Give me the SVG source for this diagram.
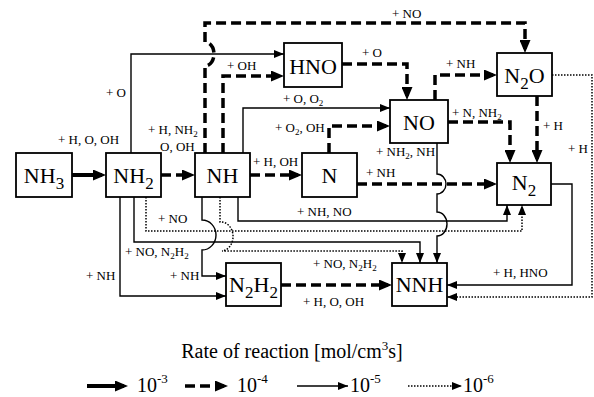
<svg xmlns="http://www.w3.org/2000/svg" width="594" height="397" viewBox="0 0 594 397">
<style>
.box{fill:#fff;stroke:#000;stroke-width:1.8}
.nl{font-family:"Liberation Serif","Times New Roman",serif;font-size:22px;fill:#000;text-anchor:middle}
.sb{font-size:17px}
.lb{font-family:"Liberation Serif","Times New Roman",serif;font-size:13px;fill:#000}
.ls{font-size:9px}
.c{fill:none;stroke:#000}
.thick{stroke-width:4;marker-end:url(#mk)}
.dash{stroke-width:3.5;stroke-dasharray:10 5;marker-end:url(#mk)}
.thin{stroke-width:1.4;marker-end:url(#mt)}
.dot{stroke-width:1.5;stroke-dasharray:1.5 1.5;marker-end:url(#mt)}
.lg{font-family:"Liberation Serif","Times New Roman",serif;font-size:20px;fill:#000}
</style>
<defs>
<marker id="mk" markerUnits="userSpaceOnUse" markerWidth="13" markerHeight="11" refX="9" refY="5.5" orient="auto"><path d="M0,0 L13,5.5 L0,11 z" fill="#000"/></marker>
<marker id="mt" markerUnits="userSpaceOnUse" markerWidth="10" markerHeight="8" refX="10" refY="4" orient="auto"><path d="M0,0 L10,4 L0,8 z" fill="#000"/></marker>
</defs>
<rect width="594" height="397" fill="#fff"/>
<g id="connectors">
<path class="c thick" d="M72,175 H102"/>
<path class="c dash" d="M161,175 H191"/>
<path class="c dash" d="M250,175 H298"/>
<path class="c dash" d="M357,184 H493"/>
<path class="c thin" d="M131,153 V54 H284"/>
<path class="c dash" d="M205,153 V66 A9,12 0 0 0 205,42 V23 H525 V49"/>
<path class="c dash" d="M223,153 V76 H280"/>
<path class="c thin" d="M243,153 V108 H390"/>
<path class="c dash" d="M329,153 V126 H386"/>
<path class="c dash" d="M342,64 H407 V96"/>
<path class="c dash" d="M435,100 V75 H493"/>
<path class="c dash" d="M448,122 H510 V159"/>
<path class="c dash" d="M537,96 V159"/>
<path class="c dot" d="M552,75 H592 V297 H447"/>
<path class="c thin" d="M551,184 H572 V285 H447"/>
<path class="c thin" d="M437,143 V174 A9,10 0 0 1 437,194 V212 A10,12 0 0 1 437,236 V263"/>
<path class="c thin" d="M238,197 V221 H507 V205"/>
<path class="c dot" d="M146,197 V231 H522 V205"/>
<path class="c thin" d="M134,197 V242 H420 V263"/>
<path class="c thin" d="M202,197 V220 A14,15 0 0 1 202,250 V276 H226"/>
<path class="c thin" d="M120,197 V296 H226"/>
<path class="c dot" d="M220,197 V222 A12,14.5 0 0 1 222,251 H402 V263"/>
<path class="c dash" d="M281,285 H388"/>
</g>
<g id="labels">
<text class="lb" x="392" y="18">+ NO</text>
<text class="lb" x="106" y="97">+ O</text>
<text class="lb" x="227" y="70">+ OH</text>
<text class="lb" x="362" y="57">+ O</text>
<text class="lb" x="446" y="68">+ NH</text>
<text class="lb" x="283" y="103">+ O, O<tspan class="ls" dy="3">2</tspan></text>
<text class="lb" x="148" y="134">+ H, NH<tspan class="ls" dy="3">2</tspan></text>
<text class="lb" x="160" y="151">O, OH</text>
<text class="lb" x="58" y="144">+ H, O, OH</text>
<text class="lb" x="275" y="132">+ O<tspan class="ls" dy="3">2</tspan><tspan dy="-3">, OH</tspan></text>
<text class="lb" x="253" y="166">+ H, OH</text>
<text class="lb" x="452" y="117">+ N, NH<tspan class="ls" dy="3">2</tspan></text>
<text class="lb" x="376" y="156">+ NH<tspan class="ls" dy="3">2</tspan><tspan dy="-3">, NH</tspan></text>
<text class="lb" x="366" y="177">+ NH</text>
<text class="lb" x="543" y="130">+ H</text>
<text class="lb" x="568" y="153">+ H</text>
<text class="lb" x="297" y="216">+ NH, NO</text>
<text class="lb" x="158" y="223">+ NO</text>
<text class="lb" x="125" y="256">+ NO, N<tspan class="ls" dy="3">2</tspan><tspan dy="-3">H</tspan><tspan class="ls" dy="3">2</tspan></text>
<text class="lb" x="86" y="280">+ NH</text>
<text class="lb" x="170" y="280">+ NH</text>
<text class="lb" x="313" y="268">+ NO, N<tspan class="ls" dy="3">2</tspan><tspan dy="-3">H</tspan><tspan class="ls" dy="3">2</tspan></text>
<text class="lb" x="303" y="306">+ H, O, OH</text>
<text class="lb" x="493" y="277">+ H, HNO</text>
</g>
<g id="NH3"><rect class="box" x="16" y="153" width="56" height="44"/><text class="nl" x="44" y="183">NH<tspan class="sb" dy="6">3</tspan></text></g>
<g id="NH2"><rect class="box" x="106" y="153" width="55" height="44"/><text class="nl" x="133.5" y="183">NH<tspan class="sb" dy="6">2</tspan></text></g>
<g id="NH"><rect class="box" x="195" y="153" width="55" height="44"/><text class="nl" x="222.5" y="183">NH</text></g>
<g id="N"><rect class="box" x="302" y="153" width="55" height="44"/><text class="nl" x="329.5" y="183">N</text></g>
<g id="HNO"><rect class="box" x="284" y="43" width="58" height="44"/><text class="nl" x="313" y="74">HNO</text></g>
<g id="NO"><rect class="box" x="390" y="100" width="58" height="43"/><text class="nl" x="419" y="130">NO</text></g>
<g id="N2O"><rect class="box" x="497" y="53" width="55" height="43"/><text class="nl" x="524.5" y="83">N<tspan class="sb" dy="6">2</tspan><tspan dy="-6">O</tspan></text></g>
<g id="N2"><rect class="box" x="497" y="163" width="54" height="42"/><text class="nl" x="524" y="190">N<tspan class="sb" dy="6">2</tspan></text></g>
<g id="N2H2"><rect class="box" x="226" y="263" width="55" height="43"/><text class="nl" x="253.5" y="292">N<tspan class="sb" dy="6">2</tspan><tspan dy="-6">H</tspan><tspan class="sb" dy="6">2</tspan></text></g>
<g id="NNH"><rect class="box" x="392" y="263" width="55" height="43"/><text class="nl" x="419.5" y="292">NNH</text></g>
<g id="legend">
<text class="lg" x="292" y="358" text-anchor="middle" font-size="21">Rate of reaction [mol/cm<tspan font-size="13" dy="-8">3</tspan><tspan dy="8">s]</tspan></text>
<path class="c thick" d="M87,386 H124"/>
<text class="lg" x="137" y="392">10<tspan font-size="13" dy="-9">-3</tspan></text>
<path class="c dash" d="M185,386 H224"/>
<text class="lg" x="237" y="392">10<tspan font-size="13" dy="-9">-4</tspan></text>
<path class="c thin" d="M297,386 H348"/>
<text class="lg" x="350" y="392">10<tspan font-size="13" dy="-9">-5</tspan></text>
<path class="c dot" d="M408,386 H462"/>
<text class="lg" x="463" y="392">10<tspan font-size="13" dy="-9">-6</tspan></text>
</g>
</svg>
